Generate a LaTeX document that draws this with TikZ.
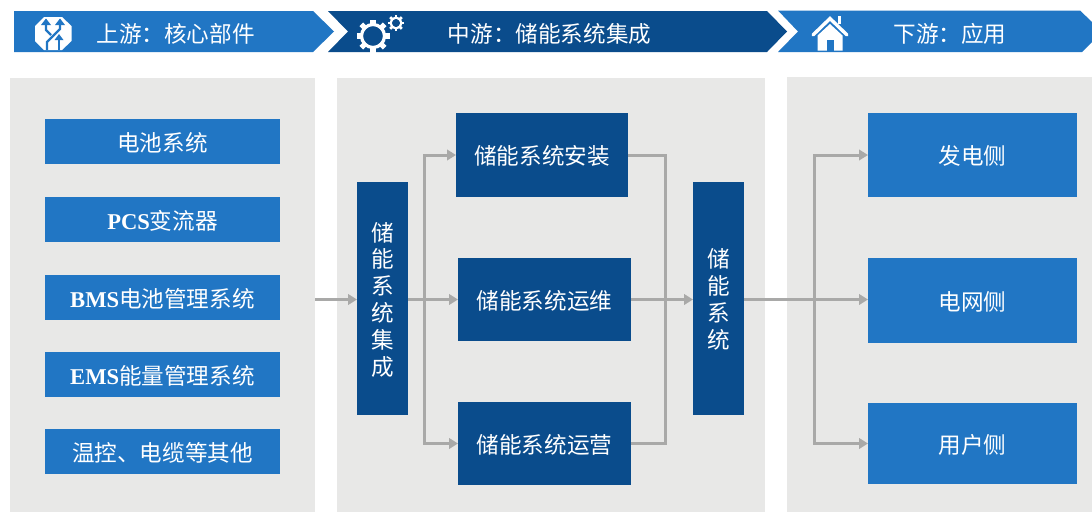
\documentclass[tikz,border=0pt]{standalone}
\usepackage{fontspec}
\usetikzlibrary{arrows.meta}
\newfontfamily\cjk{Noto Sans CJK SC}
\newfontfamily\lat{Liberation Serif}
\definecolor{blueA}{HTML}{2176C4}
\definecolor{blueB}{HTML}{0A4C8C}
\definecolor{panelgrey}{HTML}{E8E8E7}
\definecolor{linegrey}{HTML}{A9A9A8}
\newcommand{\bl}[1]{{\lat\bfseries #1}}
\tikzset{
  x=1pt,y=-1pt,
  panel/.style={fill=panelgrey,draw=none},
  txt/.style={font=\cjk\fontsize{22.6}{26.8}\selectfont,text=white,align=center,inner sep=0pt,outer sep=0pt},
  boxA/.style={fill=blueA,draw=none,inner sep=0pt,outer sep=0pt},
  boxB/.style={fill=blueB,draw=none,inner sep=0pt,outer sep=0pt},
  link/.style={draw=linegrey,line width=3pt,line join=miter},
  arrowed/.style={link,-{Triangle[length=9pt,width=10.5pt]}},
  icon/.style={fill=white,draw=none},
}
\newcommand{\rbox}[7]{\node[#1,minimum width=#5pt-#3pt,minimum height=#6pt-#4pt] (#2) at ({(#3+#5)/2},{(#4+#6)/2}) {};
\node[txt,yshift=-1pt] (#2-t) at (#2.center) {#7};}
\begin{document}
\begin{tikzpicture}
\useasboundingbox (0,0) rectangle (1092,512);
\fill[white] (0,0) rectangle (1092,512);
% panels
\fill[panel] (10,78) rectangle (315,512);
\fill[panel] (337,78) rectangle (765,512);
\fill[panel] (787,77) rectangle (1092,512);
% header chevrons
\fill[blueA] (14,11) -- (313,11) -- (334,31.5) -- (313,52) -- (14,52) -- cycle;
\fill[blueB] (328,11) -- (767,11) -- (787,31.5) -- (767,52) -- (328,52) -- (348,31.5) -- cycle;
\fill[blueA] (778,10.5) -- (1080,10.5) -- (1092,22) -- (1092,42) -- (1082,52) -- (778,52) -- (798,31.5) -- cycle;
\node[txt] (h1) at (175.5,34) {上游：核心部件};
\node[txt] (h2) at (549.5,34) {中游：储能系统集成};
\node[txt] (h3) at (950,34) {下游：应用};
% icon 1: octagon with crossing arrows
\fill[icon] (44,17) -- (62,17) -- (71.5,26) -- (71.5,41) -- (62,50) -- (44,50) -- (35,41) -- (35,26) -- cycle;
\begin{scope}[line width=2.2pt]
\draw[blueA] (47,50) -- (47,42) -- (60,29) -- (60,23);
\draw[blueA] (59,50) -- (59,39);
\draw[blueA] (46,23) -- (46,30) -- (51,35);
\fill[blueA] (41,25) -- (46,18.5) -- (51,25) -- cycle;
\fill[blueA] (55,25) -- (60,18.5) -- (65,25) -- cycle;
\fill[blueA] (54.5,40) -- (59,34) -- (63.5,40) -- cycle;
\end{scope}
% icon 2: gears
\foreach \a in {0,45,...,315}{
  \fill[white,rotate around={\a:(373,36)}] (370.4,19.5) rectangle (375.6,26);
}
\draw[white,line width=3.2pt] (373,36) circle (11.5);
\foreach \a in {0,45,...,315}{
  \fill[white,rotate around={\a:(396,23)}] (394.6,14.8) rectangle (397.4,19);
}
\draw[white,line width=2.2pt] (396,23) circle (5.4);
% icon 3: house
\fill[icon] (837.5,16) rectangle (841,24);
\draw[white,line width=3.4pt,line cap=round,line join=miter] (813,35) -- (830,18.5) -- (847,35);
\fill[icon] (817.5,35.5) -- (830,24) -- (842.5,35.5) -- (842.5,50.5) -- (817.5,50.5) -- cycle;
\fill[blueA] (826.5,40) rectangle (833.5,50.5);
% left column
\rbox{boxA}{l1}{45}{119}{280}{164}{电池系统}
\rbox{boxA}{l2}{45}{197}{280}{242}{\bl{PCS}变流器}
\rbox{boxA}{l3}{45}{275}{280}{320}{\bl{BMS}电池管理系统}
\rbox{boxA}{l4}{45}{352}{280}{397}{\bl{EMS}能量管理系统}
\rbox{boxA}{l5}{45}{429}{280}{474}{温控、电缆等其他}
% middle
\rbox{boxB}{v1}{357}{182}{408}{415}{储\\能\\系\\统\\集\\成}
\rbox{boxB}{m1}{456}{113}{628}{197}{储能系统安装}
\rbox{boxB}{m2}{458}{258}{631}{341}{储能系统运维}
\rbox{boxB}{m3}{458}{402}{631}{485}{储能系统运营}
\rbox{boxB}{v2}{693}{182}{744}{415}{储\\能\\系\\统}
% right
\rbox{boxA}{r1}{868}{113}{1077}{197}{发电侧}
\rbox{boxA}{r2}{868}{258}{1077}{343}{电网侧}
\rbox{boxA}{r3}{868}{403}{1077}{484}{用户侧}
% connectors
\coordinate (in) at (315,299.5);
\coordinate (j1) at (424,299.5);
\coordinate (j2) at (665,299.5);
\coordinate (j3) at (814,299.5);
\draw[arrowed] (in) -- (v1.west |- in);
\draw[arrowed] (v1.east |- j1) -- (m2.west |- j1);
\draw[arrowed] (j1) -- (j1 |- m1.west) -- (m1.west);
\draw[arrowed] (j1) -- (j1 |- m3.west) -- (m3.west);
\draw[link] (m1.east) -- (j2 |- m1.east) -- (j2 |- m3.east) -- (m3.east);
\draw[arrowed] (m2.east |- j2) -- (v2.west |- j2);
\draw[arrowed] (v2.east |- j3) -- (r2.west |- j3);
\draw[arrowed] (j3) -- (j3 |- r1.west) -- (r1.west);
\draw[arrowed] (j3) -- (j3 |- r3.west) -- (r3.west);
\end{tikzpicture}
\end{document}
